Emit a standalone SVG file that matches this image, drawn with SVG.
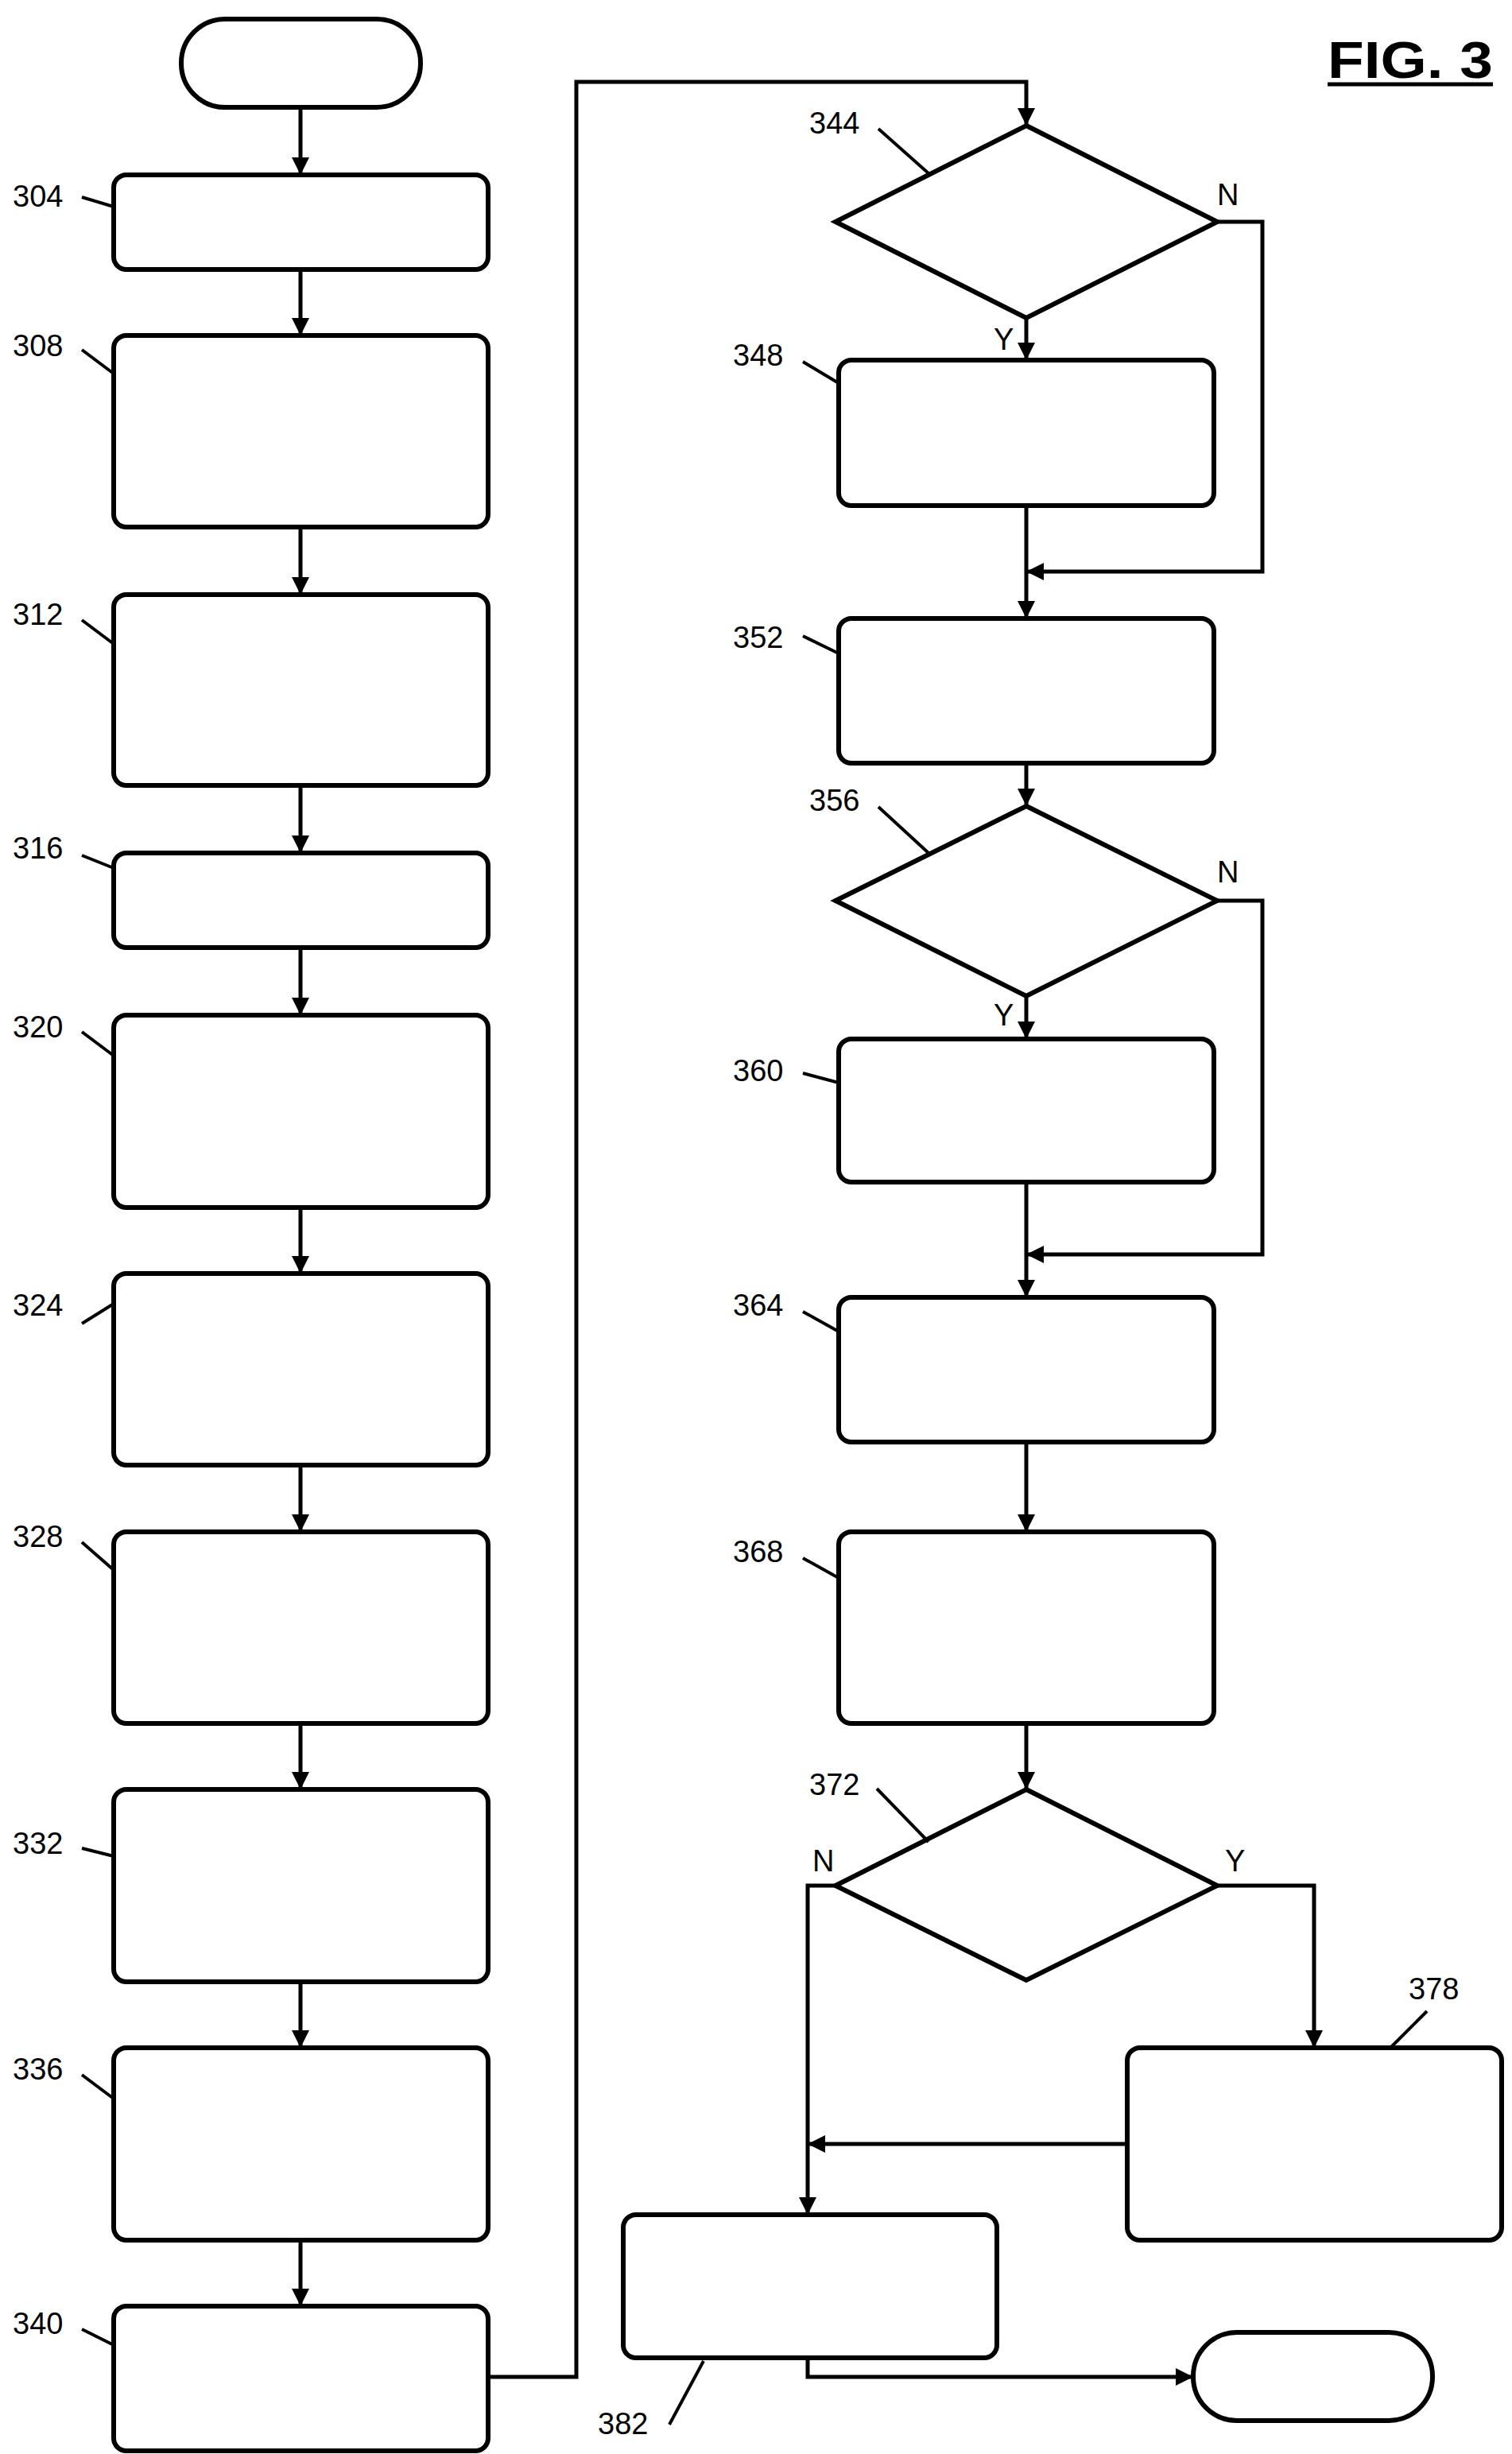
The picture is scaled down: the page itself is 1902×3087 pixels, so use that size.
<svg xmlns="http://www.w3.org/2000/svg" width="1902" height="3087" viewBox="0 0 1902 3087">
<style>
.n{fill:#fff;stroke:#000;stroke-width:6}
.c{fill:none;stroke:#000;stroke-width:5}
.l{fill:none;stroke:#000;stroke-width:4}
text{font-family:"Liberation Sans",Arial,sans-serif;font-size:38px;fill:#000}
</style>
<defs>
<marker id="ah" viewBox="0 0 10 10" refX="10" refY="5" markerWidth="26" markerHeight="22" orient="auto" markerUnits="userSpaceOnUse"><path d="M0,0L10,5L0,10z"/></marker></defs>
<text x="1670" y="98" textLength="208" lengthAdjust="spacingAndGlyphs" style="font-size:64px;font-weight:bold">FIG. 3</text>
<line x1="1670" y1="106" x2="1878" y2="106" stroke="#000" stroke-width="5"/>
<g id="connectors">
<path class="c" marker-end="url(#ah)" d="M378,135V220"/>
<path class="c" marker-end="url(#ah)" d="M378,339V422"/>
<path class="c" marker-end="url(#ah)" d="M378,663V748"/>
<path class="c" marker-end="url(#ah)" d="M378,988V1073"/>
<path class="c" marker-end="url(#ah)" d="M378,1192V1277"/>
<path class="c" marker-end="url(#ah)" d="M378,1519V1602"/>
<path class="c" marker-end="url(#ah)" d="M378,1843V1927"/>
<path class="c" marker-end="url(#ah)" d="M378,2168V2251"/>
<path class="c" marker-end="url(#ah)" d="M378,2493V2576"/>
<path class="c" marker-end="url(#ah)" d="M378,2818V2901"/>
<path class="c" marker-end="url(#ah)" d="M614,2990H725V103H1291V158"/>
<path class="c" marker-end="url(#ah)" d="M1291,400V453"/>
<path class="c" marker-end="url(#ah)" d="M1531,279H1588V719H1291"/>
<path class="c" marker-end="url(#ah)" d="M1291,636V778"/>
<path class="c" marker-end="url(#ah)" d="M1291,960V1014"/>
<path class="c" marker-end="url(#ah)" d="M1291,1253V1307"/>
<path class="c" marker-end="url(#ah)" d="M1531,1133H1588V1578H1291"/>
<path class="c" marker-end="url(#ah)" d="M1291,1487V1632"/>
<path class="c" marker-end="url(#ah)" d="M1291,1814V1927"/>
<path class="c" marker-end="url(#ah)" d="M1291,2168V2251"/>
<path class="c" marker-end="url(#ah)" d="M1531,2372H1653V2576"/>
<path class="c" marker-end="url(#ah)" d="M1051,2372H1016V2786"/>
<path class="c" marker-end="url(#ah)" d="M1418,2697H1016"/>
<path class="c" marker-end="url(#ah)" d="M1016,2966V2990H1501"/>
<text x="1531" y="258">N</text><text x="1250" y="440">Y</text>
<text x="1531" y="1110">N</text><text x="1250" y="1290">Y</text>
<text x="1022" y="2354">N</text><text x="1541" y="2354">Y</text>
</g>
<g id="start"><rect class="n" x="228" y="24" width="301" height="111" rx="55"/></g>
<g id="n304"><rect class="n" x="143" y="220" width="471" height="119" rx="16"/><text x="16" y="260">304</text><path class="l" d="M103,248L143,260"/></g>
<g id="n308"><rect class="n" x="143" y="422" width="471" height="241" rx="16"/><text x="16" y="448">308</text><path class="l" d="M103,440L143,470"/></g>
<g id="n312"><rect class="n" x="143" y="748" width="471" height="240" rx="16"/><text x="16" y="786">312</text><path class="l" d="M103,780L143,810"/></g>
<g id="n316"><rect class="n" x="143" y="1073" width="471" height="119" rx="16"/><text x="16" y="1080">316</text><path class="l" d="M103,1076L143,1092"/></g>
<g id="n320"><rect class="n" x="143" y="1277" width="471" height="242" rx="16"/><text x="16" y="1305">320</text><path class="l" d="M103,1298L143,1328"/></g>
<g id="n324"><rect class="n" x="143" y="1602" width="471" height="241" rx="16"/><text x="16" y="1655">324</text><path class="l" d="M103,1665L143,1640"/></g>
<g id="n328"><rect class="n" x="143" y="1927" width="471" height="241" rx="16"/><text x="16" y="1946">328</text><path class="l" d="M103,1940L143,1975"/></g>
<g id="n332"><rect class="n" x="143" y="2251" width="471" height="242" rx="16"/><text x="16" y="2332">332</text><path class="l" d="M103,2325L143,2335"/></g>
<g id="n336"><rect class="n" x="143" y="2576" width="471" height="242" rx="16"/><text x="16" y="2616">336</text><path class="l" d="M103,2610L143,2640"/></g>
<g id="n340"><rect class="n" x="143" y="2901" width="471" height="182" rx="16"/><text x="16" y="2936">340</text><path class="l" d="M103,2930L143,2950"/></g>
<g id="n344"><polygon class="n" points="1291,158 1531,279 1291,400 1051,279"/><text x="1018" y="168">344</text><path class="l" d="M1105,162L1168,218"/></g>
<g id="n348"><rect class="n" x="1055" y="453" width="472" height="183" rx="16"/><text x="922" y="460">348</text><path class="l" d="M1010,455L1055,482"/></g>
<g id="n352"><rect class="n" x="1055" y="778" width="472" height="182" rx="16"/><text x="922" y="815">352</text><path class="l" d="M1010,800L1055,822"/></g>
<g id="n356"><polygon class="n" points="1291,1014 1531,1133 1291,1253 1051,1133"/><text x="1018" y="1020">356</text><path class="l" d="M1105,1015L1168,1073"/></g>
<g id="n360"><rect class="n" x="1055" y="1307" width="472" height="180" rx="16"/><text x="922" y="1360">360</text><path class="l" d="M1010,1350L1055,1362"/></g>
<g id="n364"><rect class="n" x="1055" y="1632" width="472" height="182" rx="16"/><text x="922" y="1655">364</text><path class="l" d="M1010,1650L1055,1675"/></g>
<g id="n368"><rect class="n" x="1055" y="1927" width="472" height="241" rx="16"/><text x="922" y="1965">368</text><path class="l" d="M1010,1960L1055,1985"/></g>
<g id="n372"><polygon class="n" points="1291,2251 1531,2372 1291,2491 1051,2372"/><text x="1018" y="2258">372</text><path class="l" d="M1103,2250L1168,2317"/></g>
<g id="n378"><rect class="n" x="1418" y="2576" width="471" height="242" rx="16"/><text x="1772" y="2515">378</text><path class="l" d="M1795,2530L1750,2575"/></g>
<g id="n382"><rect class="n" x="784" y="2786" width="470" height="180" rx="16"/><text x="752" y="3062">382</text><path class="l" d="M842,3050L885,2970"/></g>
<g id="end"><rect class="n" x="1501" y="2934" width="301" height="111" rx="55"/></g>
</svg>
